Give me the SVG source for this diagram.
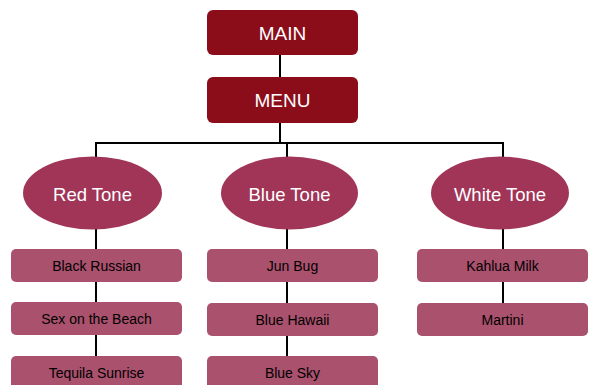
<svg xmlns="http://www.w3.org/2000/svg" width="590" height="385" viewBox="0 0 590 385">
<style>
.top{fill:#8c0d1a}
.tone{fill:#a03558}
.item{fill:#aa516d}
.tt{font-family:"Liberation Sans",Arial,sans-serif;fill:#ffffff;text-anchor:middle;dominant-baseline:central}
.it{font-family:"Liberation Sans",Arial,sans-serif;fill:#000000;font-size:14px;text-anchor:middle;dominant-baseline:central}
.ln{stroke:#000;stroke-width:2;fill:none}
</style>
<rect width="590" height="385" fill="#ffffff"/>
<g id="connectors" class="ln">
<line x1="280" y1="55" x2="280" y2="77"/>
<line x1="280" y1="123" x2="280" y2="143"/>
<polyline points="96,157 96,143 503,143 503,158"/>
<line x1="287" y1="143" x2="287" y2="157"/>
<line x1="96" y1="229" x2="96" y2="356"/>
<line x1="287" y1="229" x2="287" y2="356"/>
<line x1="503" y1="229" x2="503" y2="303"/>
</g>
<g id="main"><rect class="top" x="207" y="10" width="151" height="45" rx="6"/><text class="tt" x="282.5" y="33" font-size="19">MAIN</text></g>
<g id="menu"><rect class="top" x="207" y="77" width="151" height="46" rx="6"/><text class="tt" x="282.5" y="100" font-size="19">MENU</text></g>
<g id="red-tone"><ellipse class="tone" cx="92.5" cy="193" rx="69.5" ry="36.5"/><text class="tt" x="92.5" y="194" font-size="18.5">Red Tone</text></g>
<g id="blue-tone"><ellipse class="tone" cx="289.5" cy="193" rx="68.5" ry="36.5"/><text class="tt" x="289.5" y="194" font-size="18.5">Blue Tone</text></g>
<g id="white-tone"><ellipse class="tone" cx="500" cy="193" rx="69" ry="36.5"/><text class="tt" x="500" y="194" font-size="18.5">White Tone</text></g>
<g id="black-russian"><rect class="item" x="11" y="249" width="171" height="33" rx="5"/><text class="it" x="96.5" y="266">Black Russian</text></g>
<g id="sex-on-the-beach"><rect class="item" x="11" y="302" width="171" height="33" rx="5"/><text class="it" x="96.5" y="319">Sex on the Beach</text></g>
<g id="tequila-sunrise"><rect class="item" x="11" y="356" width="171" height="34" rx="5"/><text class="it" x="96.5" y="373">Tequila Sunrise</text></g>
<g id="jun-bug"><rect class="item" x="207" y="249" width="171" height="33" rx="5"/><text class="it" x="292.5" y="266">Jun Bug</text></g>
<g id="blue-hawaii"><rect class="item" x="207" y="303" width="171" height="33" rx="5"/><text class="it" x="292.5" y="320">Blue Hawaii</text></g>
<g id="blue-sky"><rect class="item" x="207" y="356" width="171" height="34" rx="5"/><text class="it" x="292.5" y="373">Blue Sky</text></g>
<g id="kahlua-milk"><rect class="item" x="417" y="249" width="171" height="33" rx="5"/><text class="it" x="502.5" y="266">Kahlua Milk</text></g>
<g id="martini"><rect class="item" x="417" y="303" width="171" height="33" rx="5"/><text class="it" x="502.5" y="320">Martini</text></g>
</svg>
